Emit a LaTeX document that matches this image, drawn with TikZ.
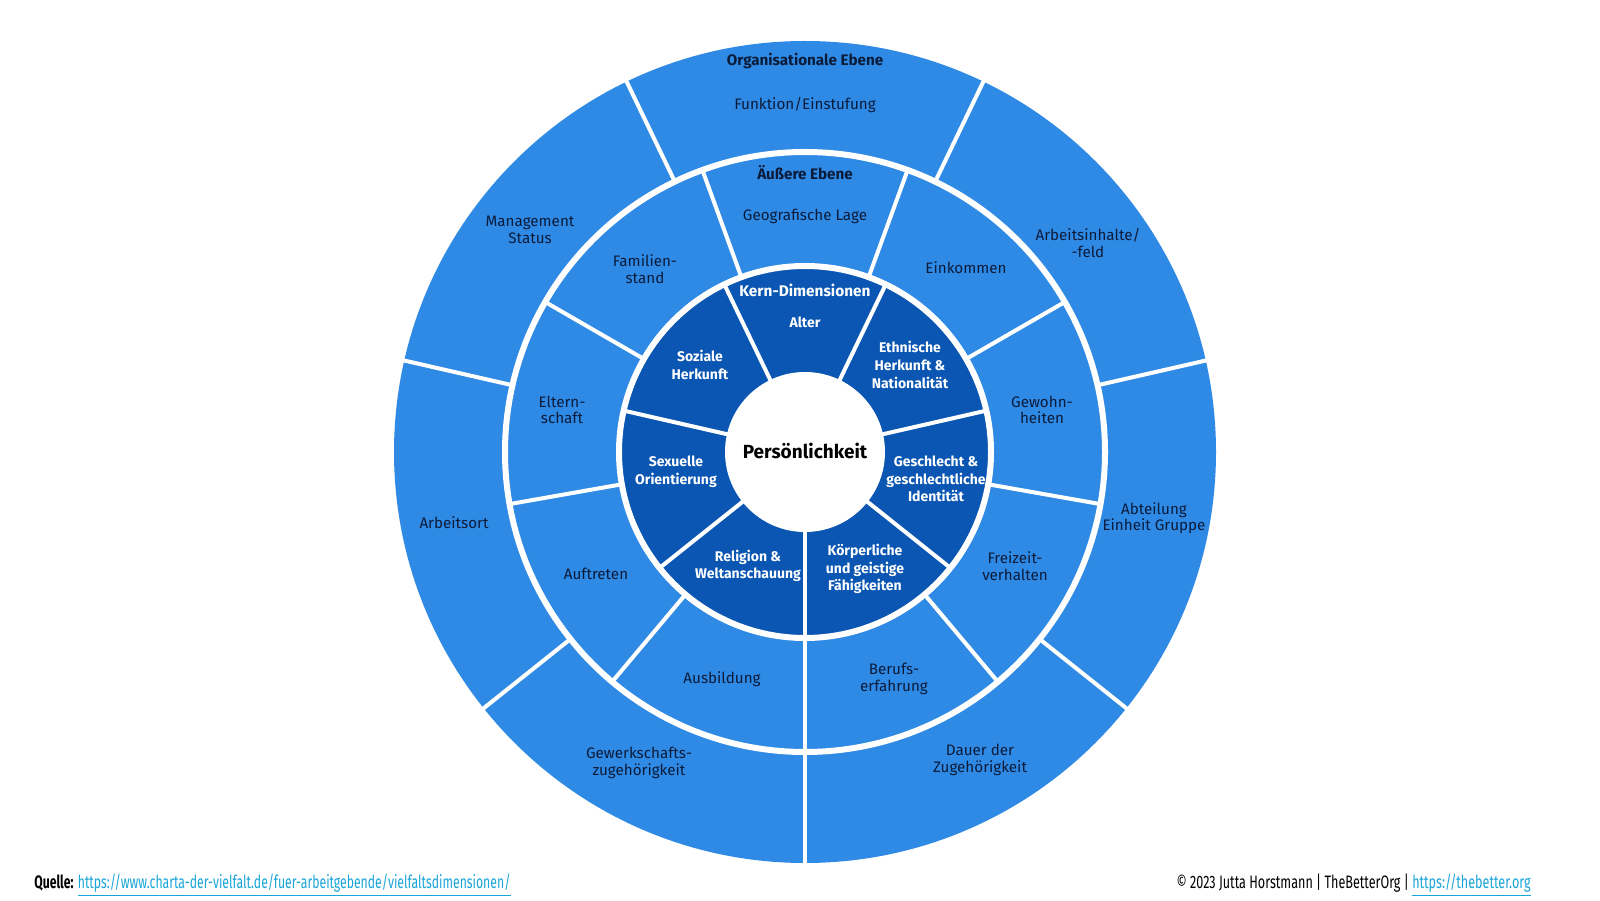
\documentclass[tikz,border=0pt]{standalone}
\usepackage{fontspec}
\setmainfont{Fira Sans}
\definecolor{lblue}{HTML}{2F8AE5}
\definecolor{dblue}{HTML}{0A56B2}
\definecolor{ink}{HTML}{0B1B3A}
\definecolor{linkc}{HTML}{1AA5D8}
\begin{document}
\begin{tikzpicture}[x=0.5pt,y=0.5pt,
  gap/.style={draw=white,line width=2pt},
  ringgap/.style={draw=white,line width=3pt},
  lab/.style={font=\fontsize{7.6}{8.2}\selectfont,text=ink,align=center,inner sep=0},
  head/.style={font=\fontsize{7.6}{8.2}\selectfont\bfseries,text=ink,align=center,inner sep=0},
  wlab/.style={font=\fontsize{7}{8.8}\selectfont\bfseries,text=white,align=center,inner sep=0},
  whead/.style={font=\fontsize{7.7}{8.8}\selectfont\bfseries,text=white,align=center,inner sep=0},
  center/.style={font=\fontsize{9.5}{11}\selectfont\bfseries,text=black,align=center,inner sep=0},
  foot/.style={font=\fontsize{9}{10}\selectfont,text=black,inner sep=0}]
\useasboundingbox[fill=white] (0,0) rectangle (1600,900);
\begin{scope}[shift={(805,448)}]
  \fill[lblue] (0,0) circle (411);
  \fill[dblue] (0,0) circle (186);
  \fill[white] (0,0) circle (80);
  \draw[ringgap] (0,0) circle (300);
  \draw[ringgap] (0,0) circle (186);
  \foreach \a in {-90,-38.571,12.857,64.286,115.714,167.143,218.571} {
    \draw[gap] (\a:300) -- (\a:414);
    \draw[gap] (\a:79) -- (\a:186);
  }
  \foreach \a in {-90,-50,-10,30,70,110,150,190,230} {
    \draw[gap] (\a:186) -- (\a:300);
  }
\end{scope}
% outer ring
\node[head] (org) at (805,839) {Organisationale Ebene};
\node[lab] (funk) at (805,795) {Funktion/Einstufung};
\node[lab] (mgmt) at (530,670) {Management\\Status};
\node[lab] (arbi) at (1088,657) {Arbeitsinhalte/\\-feld};
\node[lab] (abt) at (1154,382) {Abteilung\\Einheit Gruppe};
\node[lab] (dauer) at (980,140) {Dauer der\\Zugehörigkeit};
\node[lab] (gew) at (639,137) {Gewerkschafts-\\zugehörigkeit};
\node[lab] (ort) at (454,377) {Arbeitsort};
% middle ring
\node[head] (aus) at (805,727) {Äußere Ebene};
\node[lab] (geo) at (805,684) {Geografische Lage};
\node[lab] (fam) at (645,631) {Familien-\\stand};
\node[lab] (ein) at (966,632) {Einkommen};
\node[lab] (gewo) at (1042,490) {Gewohn-\\heiten};
\node[lab] (frei) at (1015,334) {Freizeit-\\verhalten};
\node[lab] (beruf) at (894,221) {Berufs-\\erfahrung};
\node[lab] (ausb) at (722,221) {Ausbildung};
\node[lab] (auft) at (596,326) {Auftreten};
\node[lab] (elt) at (562,490) {Eltern-\\schaft};
% inner ring
\node[whead] (kern) at (805,610) {Kern-Dimensionen};
\node[wlab] (alter) at (805,578) {Alter};
\node[wlab] (soz) at (700,535) {Soziale\\Herkunft};
\node[wlab] (eth) at (910,535) {Ethnische\\Herkunft \&\\Nationalität};
\node[wlab] (ges) at (936,421) {Geschlecht \&\\geschlechtliche\\Identität};
\node[wlab] (koe) at (865,331) {Körperliche\\und geistige\\Fähigkeiten};
\node[wlab] (rel) at (748,334) {Religion \&\\Weltanschauung};
\node[wlab] (sex) at (676,428) {Sexuelle\\Orientierung};
\node[center] (pers) at (805,449) {Persönlichkeit};
% footer
\node[foot,anchor=west] (quelle) at (34,15) {\scalebox{0.68}[1]{\textbf{Quelle:} \textcolor{linkc}{\underline{https://www.charta-der-vielfalt.de/fuer-arbeitgebende/vielfaltsdimensionen/}}}};
\node[foot,anchor=east] (copy) at (1531,15) {\scalebox{0.70}[1]{© 2023 Jutta Horstmann | TheBetterOrg | \textcolor{linkc}{\underline{https://thebetter.org}}}};
\end{tikzpicture}
\end{document}
